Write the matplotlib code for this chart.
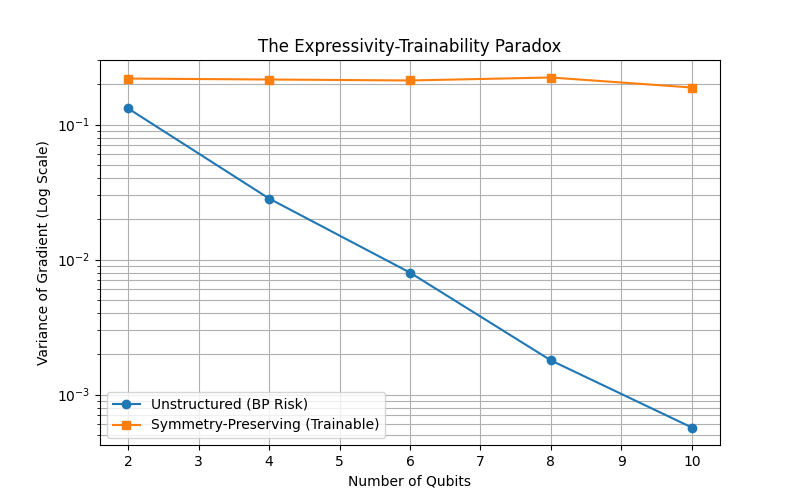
import matplotlib
matplotlib.use("Agg")
import matplotlib.pyplot as plt

# data
qubits = [2, 4, 6, 8, 10]
var_unstructured = [0.1315, 0.0283, 0.0080, 0.00179, 0.00057]
var_symmetry = [0.219, 0.2155, 0.212, 0.223, 0.188]

fig, ax = plt.subplots(figsize=(8, 5), dpi=100)

ax.plot(qubits, var_unstructured, 'o-', label='Unstructured (BP Risk)')
ax.plot(qubits, var_symmetry, 's-', label='Symmetry-Preserving (Trainable)')

ax.set_yscale('log')
ax.set_xlabel('Number of Qubits')
ax.set_ylabel('Variance of Gradient (Log Scale)')
ax.set_title('The Expressivity-Trainability Paradox')
ax.legend(loc='lower left')
ax.grid(True, which='both')

plt.savefig('out.png', dpi=100)
